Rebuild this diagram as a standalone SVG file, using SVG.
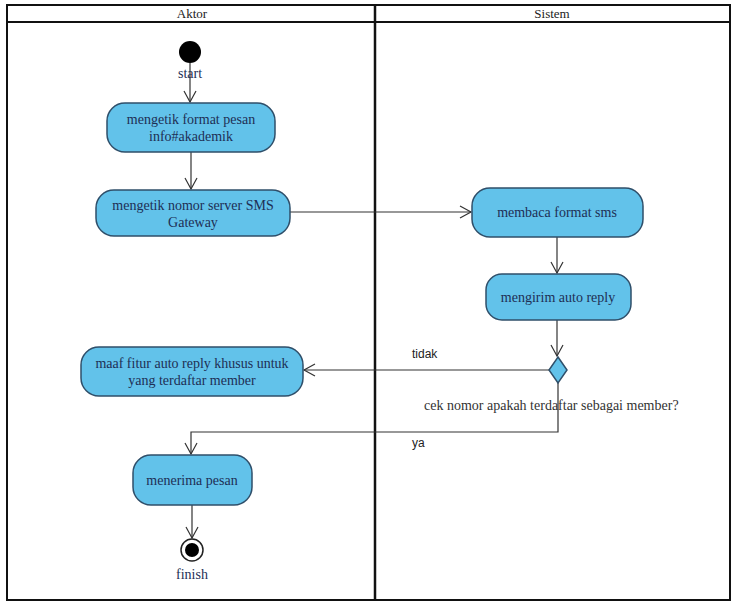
<svg xmlns="http://www.w3.org/2000/svg" width="732" height="602" viewBox="0 0 732 602">
<style>
.act{fill:#62c2ea;stroke:#2f4f6a;stroke-width:1.5}
.t{font-family:"Liberation Serif",serif;font-size:14px;fill:#1e2f55;text-anchor:middle}
.lbl{font-family:"Liberation Sans",sans-serif;font-size:12px;fill:#222}
.cn{fill:none;stroke:#333;stroke-width:1.2}
.lane{fill:none;stroke:#111;stroke-width:2}
.hd{font-family:"Liberation Serif",serif;font-size:13px;fill:#222;text-anchor:middle}
</style>
<defs>
<marker id="ar" markerWidth="14" markerHeight="14" refX="12" refY="7" orient="auto" markerUnits="userSpaceOnUse">
<path d="M1,1 L12,7 L1,13" fill="none" stroke="#333" stroke-width="1.2"/>
</marker>
</defs>
<rect width="732" height="602" fill="#fff"/>
<g id="swimlanes">
<rect class="lane" x="7" y="5" width="723" height="595"/>
<line class="lane" x1="7" y1="22" x2="730" y2="22"/>
<line x1="375" y1="5" x2="375" y2="600" stroke="#111" stroke-width="2.5"/>
<text class="hd" x="192" y="18">Aktor</text>
<text class="hd" x="552" y="18">Sistem</text>
</g>
<g id="connectors">
<line class="cn" x1="190" y1="63" x2="190" y2="102" marker-end="url(#ar)"/>
<line class="cn" x1="191" y1="152" x2="191" y2="189" marker-end="url(#ar)"/>
<line class="cn" x1="290" y1="212" x2="471" y2="212" marker-end="url(#ar)"/>
<line class="cn" x1="557" y1="237" x2="557" y2="273" marker-end="url(#ar)"/>
<line class="cn" x1="557" y1="320" x2="557" y2="356" marker-end="url(#ar)"/>
<line class="cn" x1="549" y1="370" x2="304" y2="370" marker-end="url(#ar)"/>
<polyline class="cn" points="558,383 558,432 191,432 191,454" marker-end="url(#ar)"/>
<line class="cn" x1="192" y1="505" x2="192" y2="538" marker-end="url(#ar)"/>
<text class="lbl" x="412" y="358">tidak</text>
<text class="lbl" x="412" y="447">ya</text>
<text x="424" y="410" font-family="Liberation Serif,serif" font-size="14" fill="#333">cek nomor apakah terdaftar sebagai member?</text>
</g>
<g id="start">
<circle cx="190" cy="52" r="11" fill="#000"/>
<text class="t" x="190" y="78" fill="#222">start</text>
</g>
<g id="n1">
<rect class="act" x="107" y="103" width="168" height="49" rx="18"/>
<text class="t" x="191" y="124">mengetik format pesan</text>
<text class="t" x="191" y="141">info#akademik</text>
</g>
<g id="n2">
<rect class="act" x="96" y="190" width="194" height="46" rx="18"/>
<text class="t" x="193" y="210">mengetik nomor server SMS</text>
<text class="t" x="193" y="227">Gateway</text>
</g>
<g id="n3">
<rect class="act" x="472" y="188" width="171" height="49" rx="18"/>
<text class="t" x="557" y="217">membaca format sms</text>
</g>
<g id="n4">
<rect class="act" x="486" y="274" width="145" height="46" rx="16"/>
<text class="t" x="558" y="302">mengirim auto reply</text>
</g>
<g id="decision">
<polygon class="act" points="558,357 567,370 558,383 549,370"/>
</g>
<g id="n5">
<rect class="act" x="81" y="347" width="222" height="49" rx="18"/>
<text class="t" x="192" y="368">maaf fitur auto reply khusus untuk</text>
<text class="t" x="192" y="385">yang terdaftar member</text>
</g>
<g id="n6">
<rect class="act" x="133" y="455" width="119" height="50" rx="18"/>
<text class="t" x="192" y="485">menerima pesan</text>
</g>
<g id="finish">
<circle cx="192" cy="550" r="11" fill="#fff" stroke="#222" stroke-width="1.5"/>
<circle cx="192" cy="550" r="7" fill="#000"/>
<text class="t" x="192" y="579" fill="#222">finish</text>
</g>
</svg>
